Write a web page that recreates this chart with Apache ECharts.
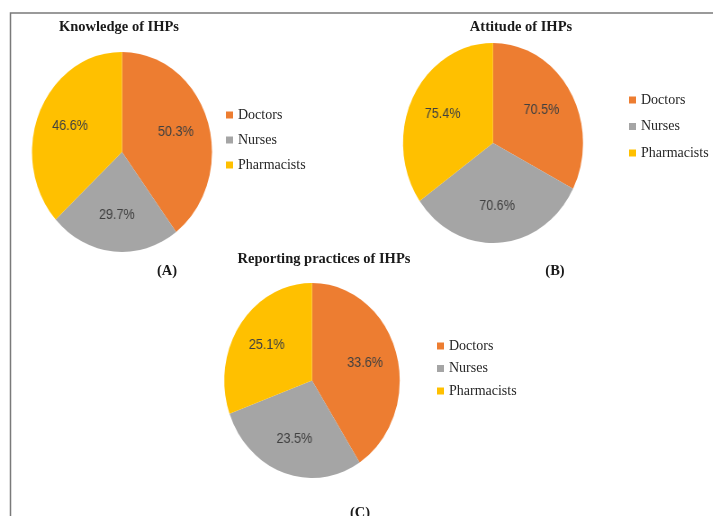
<!DOCTYPE html>
<html>
<head>
<meta charset="utf-8">
<script src="https://cdn.jsdelivr.net/npm/echarts@6/dist/echarts.min.js"></script>
<style>
html,body{margin:0;padding:0;background:#fff;}
#wrap{position:relative;width:713px;height:516px;overflow:hidden;background:#fff;}
#pies{position:absolute;left:0;top:0;width:792px;height:516px;transform:scaleX(0.9);transform-origin:0 0;}
#top{position:absolute;left:0;top:0;width:713px;height:516px;}
</style>
</head>
<body>
<div id="wrap"><div id="pies"></div><div id="top"></div></div>
<script>
var categories = ['Doctors', 'Nurses', 'Pharmacists'];
var knowledge = [50.3, 29.7, 46.6];
var attitude = [70.5, 70.6, 75.4];
var reporting = [33.6, 23.5, 25.1];
var panelTitles = ['Knowledge of IHPs', 'Attitude of IHPs', 'Reporting practices of IHPs'];
var panelTags = ['(A)', '(B)', '(C)'];
var colors = ['#ED7D31', '#A5A5A5', '#FFC000'];

function toData(vals) {
  return categories.map(function (c, i) { return { name: c, value: vals[i] }; });
}
var serif = '"Liberation Serif", "Times New Roman", serif';
var sans = '"Liberation Sans", Arial, sans-serif';

// pies are drawn in a layer squeezed to 0.9 horizontally (elliptical pies like the original)
var SX = 0.9;
function pieSeries(vals, center, radius) {
  return {
    type: 'pie',
    center: [center[0] / SX, center[1]],
    radius: radius,
    startAngle: 90,
    clockwise: true,
    animation: false,
    silent: true,
    label: { show: false },
    labelLine: { show: false },
    data: toData(vals)
  };
}
// transparent companion series only used to place the value labels a bit further out
function labelSeries(vals, center, radius) {
  return {
    type: 'pie',
    center: [center[0] / SX, center[1]],
    radius: radius * 1.2,
    startAngle: 90,
    clockwise: true,
    animation: false,
    silent: true,
    itemStyle: { color: 'rgba(0,0,0,0)' },
    label: {
      show: true,
      position: 'inside',
      formatter: function (p) { return p.value.toFixed(1) + '%'; },
      color: '#404040',
      fontFamily: sans,
      fontSize: 14
    },
    labelLine: { show: false },
    data: toData(vals)
  };
}

var pies = echarts.init(document.getElementById('pies'), null, { renderer: 'canvas' });
pies.setOption({
  backgroundColor: 'rgba(0,0,0,0)',
  color: colors,
  animation: false,
  series: [
    pieSeries(knowledge, [122, 152], 100),
    pieSeries(attitude, [493, 143], 100),
    pieSeries(reporting, [312, 380.5], 97.5),
    labelSeries(knowledge, [122, 152], 100),
    labelSeries(attitude, [493, 143], 100),
    labelSeries(reporting, [312, 380.5], 97.5)
  ]
});

function legend(left, top, gap) {
  return {
    orient: 'vertical',
    left: left,
    top: top,
    icon: 'rect',
    itemWidth: 7,
    itemHeight: 7,
    itemGap: gap,
    selectedMode: false,
    textStyle: { fontFamily: serif, fontSize: 14, color: '#262626' },
    data: categories
  };
}
// zero-size series so the legends pick up the category colours
function legendSource() {
  return { type: 'pie', radius: 0, center: [-10, -10], silent: true, label: { show: false }, labelLine: { show: false }, data: toData(knowledge) };
}

var titleStyle = { fontFamily: serif, fontSize: 14.5, fontWeight: 'bold', color: '#1a1a1a' };
function title(text, left, top) {
  return { text: text, left: left, top: top, padding: 0, textAlign: 'center', textStyle: titleStyle };
}

var chart = echarts.init(document.getElementById('top'), null, { renderer: 'canvas' });
chart.setOption({
  backgroundColor: 'rgba(0,0,0,0)',
  color: colors,
  animation: false,
  title: [
    title(panelTitles[0], 119, 20),
    title(panelTitles[1], 521, 20),
    title(panelTitles[2], 324, 252),
    title(panelTags[0], 167, 264),
    title(panelTags[1], 555, 264),
    title(panelTags[2], 360, 506)
  ],
  legend: [
    legend(221, 103, 11),
    legend(624, 88, 12.5),
    legend(432, 334, 8.5)
  ],
  graphic: [
    {
      type: 'polyline',
      shape: { points: [[713, 13], [10.5, 13], [10.5, 516]] },
      style: { stroke: '#7a7a7a', lineWidth: 1.5, fill: null },
      silent: true
    }
  ],
  series: [legendSource()]
});
</script>
</body>
</html>
